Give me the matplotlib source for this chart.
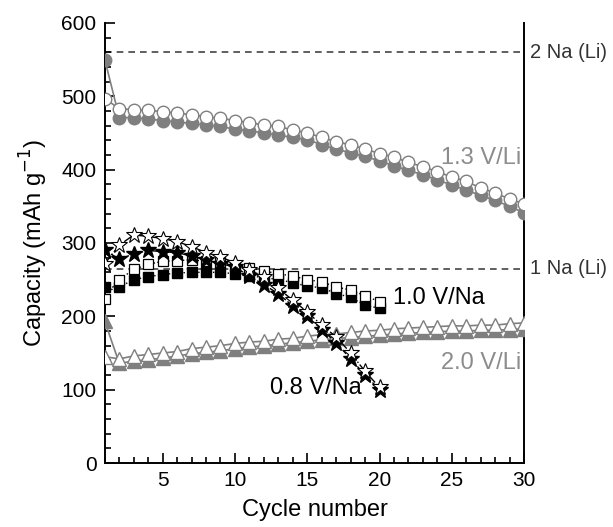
import matplotlib
matplotlib.use("Agg")
import matplotlib.pyplot as plt
import numpy as np

plt.rcParams['font.family'] = ['Liberation Sans', 'DejaVu Sans']

cycles30 = list(range(1, 31))
cycles20 = list(range(1, 21))

# 1.3 V/Li (circles)
li13_filled = [550, 471, 471, 469, 467, 465, 463, 461, 459, 455, 453, 450, 447, 444, 441,
               434, 428, 423, 418, 412, 405, 399, 393, 386, 379, 372, 365, 358, 350, 341]
li13_open = [497, 483, 482, 481, 479, 477, 475, 472, 470, 467, 464, 461, 459, 454, 450,
             444, 438, 434, 428, 422, 417, 410, 404, 397, 390, 384, 375, 368, 360, 353]

# 2.0 V/Li (triangles)
li20_filled = [193, 136, 139, 141, 143, 146, 149, 151, 153, 156, 158, 160, 162, 164, 166,
               168, 170, 171, 173, 174, 176, 177, 178, 179, 180, 180, 181, 181, 182, 183]
li20_open = [145, 142, 146, 148, 150, 152, 156, 158, 160, 163, 165, 166, 169, 170, 173,
             175, 176, 178, 180, 181, 183, 184, 185, 186, 187, 187, 188, 188, 190, 191]

# 1.0 V/Na (squares)
na10_filled = [240, 240, 250, 254, 257, 259, 260, 260, 260, 258, 255, 253, 250, 246, 241,
               239, 231, 226, 215, 211]
na10_open = [224, 250, 264, 271, 275, 276, 277, 275, 274, 269, 266, 262, 258, 255, 250,
             247, 240, 236, 228, 220]

# 0.8 V/Na (stars)
na08_filled = [290, 278, 285, 290, 288, 287, 282, 277, 272, 267, 255, 243, 231, 214, 200,
               182, 164, 142, 120, 100]
na08_open = [272, 297, 311, 309, 306, 302, 295, 287, 281, 273, 263, 254, 238, 222, 206,
             188, 172, 150, 125, 103]

ref_levels = [560, 265]
ref_labels = ["2 Na (Li)", "1 Na (Li)"]

grey = "#7f7f7f"

fig = plt.figure(figsize=(6.13, 5.27), dpi=100)
ax = fig.add_axes([0.171, 0.1214, 0.684, 0.835])

for lv, lb in zip(ref_levels, ref_labels):
    ax.plot([1, 30], [lv, lv], ls=(0, (4, 3)), color="#444444", lw=1.2, zorder=1)
    ax.text(30.4, lv, lb, ha="left", va="center", fontsize=14.5, color="#333333")

# circles
ax.plot(cycles30, li13_filled, '-', color=grey, lw=1.2, marker='o', ms=9,
        mfc=grey, mec=grey, zorder=3)
ax.plot(cycles30, li13_open, '-', color=grey, lw=1.2, marker='o', ms=9,
        mfc='white', mec=grey, mew=1.0, zorder=4)

# triangles
ax.plot(cycles30, li20_filled, '-', color=grey, lw=1.2, marker='^', ms=9.5,
        mfc=grey, mec=grey, zorder=3)
ax.plot(cycles30, li20_open, '-', color=grey, lw=1.2, marker='^', ms=9.5,
        mfc='white', mec=grey, mew=1.0, zorder=4)

# squares
ax.plot(cycles20, na10_filled, ':', color='black', lw=1.0, marker='s', ms=7.5,
        mfc='black', mec='black', zorder=5)
ax.plot(cycles20, na10_open, ':', color='black', lw=1.0, marker='s', ms=7.5,
        mfc='white', mec='black', mew=0.9, zorder=6)

# stars
ax.plot(cycles20, na08_filled, '--', color='black', lw=1.0, marker='*', ms=12,
        mfc='black', mec='black', zorder=7)
ax.plot(cycles20, na08_open, '-.', color='black', lw=1.0, marker='*', ms=12,
        mfc='white', mec='black', mew=0.8, zorder=8)

ax.text(29.8, 416, "1.3 V/Li", ha="right", va="center", fontsize=17, color="#8c8c8c")
ax.text(20.9, 225, "1.0 V/Na", ha="left", va="center", fontsize=17, color="black")
ax.text(29.8, 136, "2.0 V/Li", ha="right", va="center", fontsize=17, color="#8c8c8c")
ax.text(12.4, 102, "0.8 V/Na", ha="left", va="center", fontsize=17, color="black")

ax.set_xlim(1, 30)
ax.set_ylim(0, 600)
ax.set_xticks([5, 10, 15, 20, 25, 30])
ax.set_xticks(range(1, 31), minor=True)
ax.set_yticks(range(0, 601, 100))
ax.set_yticks(range(0, 601, 20), minor=True)
ax.tick_params(which='both', direction='in', labelsize=15, width=1.2)
ax.tick_params(which='major', length=7, pad=6)
ax.tick_params(which='minor', length=4)
ax.spines['top'].set_visible(False)
for s in ['left', 'bottom', 'right']:
    ax.spines[s].set_linewidth(1.4)

ax.set_xlabel("Cycle number", fontsize=17, labelpad=6)
ax.set_ylabel("Capacity (mAh g$^{-1}$)", fontsize=17, labelpad=8)

fig.savefig("out.png", dpi=100)
